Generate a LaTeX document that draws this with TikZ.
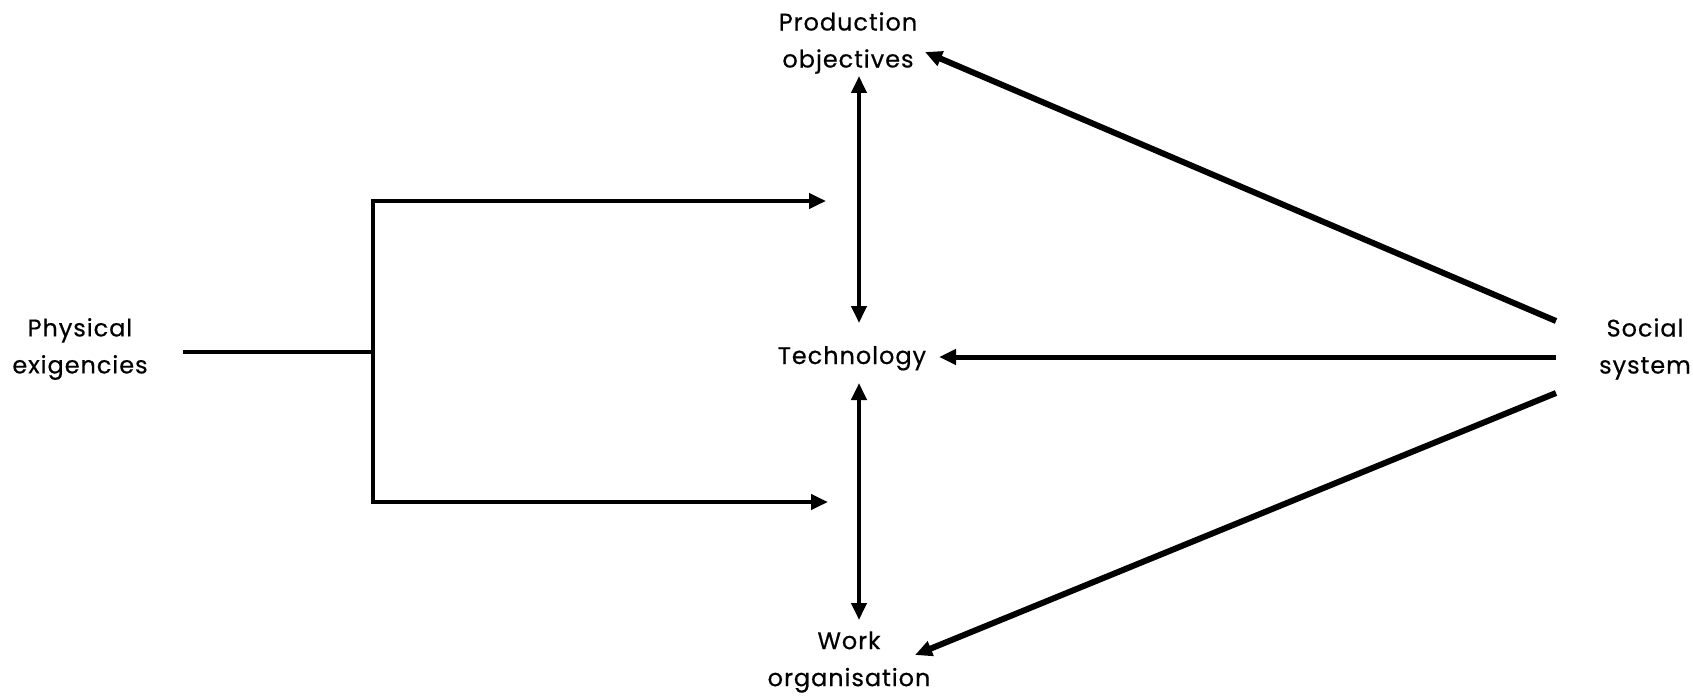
\documentclass[tikz,border=0pt]{standalone}
\usepackage{fontspec}
\setmainfont{Poppins}[LetterSpace=4,FakeBold=0.5]
\usetikzlibrary{arrows.meta}
\begin{document}
\begin{tikzpicture}[x=1pt,y=-1pt,
  lbl/.style={inner sep=0pt,align=center,font=\fontsize{24}{37}\selectfont},
  conn/.style={line width=4.5pt,line cap=butt},
  heavy/.style={line width=6pt},
  tip/.style={-{Triangle[length=17pt,width=15pt]}},
  dtip/.style={{Triangle[length=17pt,width=15pt]}-{Triangle[length=17pt,width=15pt]}}]
  \useasboundingbox (0,0) rectangle (1693,698);
  % labels
  \node[lbl] (prod) at (848,43) {Production\\objectives};
  \node[lbl,anchor=base] (tech) at (852,364) {Technology};
  \node[lbl] (work) at (849,662) {Work\\organisation};
  \node[lbl] (phys) at (80,349) {Physical\\exigencies};
  \node[lbl] (soc) at (1645,349) {Social\\system};
  % branching from the physical exigencies
  \coordinate (pstart) at (183,352);
  \coordinate (fork) at (373,352);
  \coordinate (forkT) at (373,201);
  \coordinate (forkB) at (373,502);
  \coordinate (endT) at (826,201);
  \coordinate (endB) at (828,502);
  \draw[conn] (pstart) -- (fork);
  \draw[conn,line cap=rect] (forkT) -- (forkB);
  \draw[conn,tip] (forkT) -- (endT);
  \draw[conn,tip] (forkB) -- (endB);
  % vertical links through the technology
  \coordinate (vA) at (859,76);
  \coordinate (vB) at (859,323);
  \coordinate (vC) at (859,383);
  \coordinate (vD) at (859,620);
  \draw[conn,line width=4pt,dtip] (vA) -- (vB);
  \draw[conn,line width=4pt,dtip] (vC) -- (vD);
  % influences of the social system
  \coordinate (sT) at (1556,321);
  \coordinate (sM) at (1556,357);
  \coordinate (sB) at (1556,393);
  \coordinate (pT) at (925,52);
  \coordinate (tM) at (939,357);
  \coordinate (wB) at (915,655);
  \draw[heavy,tip] (sT) -- (pT);
  \draw[conn,line width=5pt,tip] (sM) -- (tM);
  \draw[heavy,tip] (sB) -- (wB);
\end{tikzpicture}
\end{document}
